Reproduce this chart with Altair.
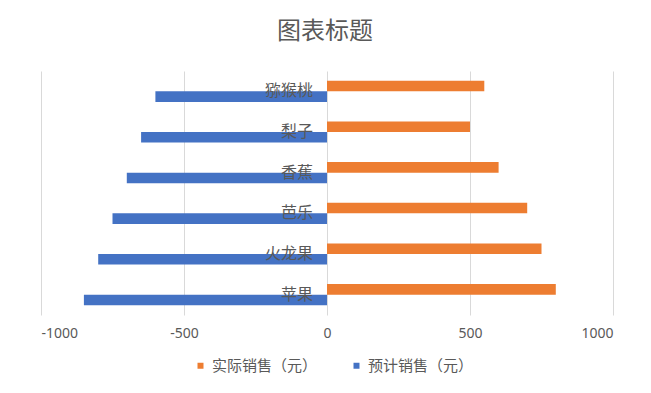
import altair as alt
import pandas as pd

categories = ["苹果", "火龙果", "芭乐", "香蕉", "梨子", "猕猴桃"]
actual = [800, 750, 700, 600, 500, 550]
forecast = [-850, -800, -750, -700, -650, -600]
series_names = ["实际销售（元）", "预计销售（元）"]
series_colors = ["#ED7D31", "#4472C4"]
x_ticks = [-1000, -500, 0, 500, 1000]
title_text = "图表标题"

rows = []
for c, a, f in zip(categories, actual, forecast):
    rows.append({"category": c, "series": series_names[0], "value": a})
    rows.append({"category": c, "series": series_names[1], "value": f})
df = pd.DataFrame(rows)
cat_df = pd.DataFrame({"category": categories, "zero": [0] * len(categories)})
title_df = pd.DataFrame({"t": [title_text]})

FONT = "Noto Sans CJK SC"
GRAY = "#595959"
y_order = list(reversed(categories))

y_enc = alt.Y("category:N", sort=y_order, axis=None,
              scale=alt.Scale(paddingInner=0.48, paddingOuter=0.24))

bars = alt.Chart(df).mark_bar().encode(
    x=alt.X("value:Q",
            scale=alt.Scale(domain=[-1000, 1000], nice=False),
            axis=alt.Axis(values=x_ticks, title=None, ticks=False, domain=False,
                          grid=True, gridColor="#D9D9D9", gridWidth=1,
                          labelColor=GRAY, labelFontSize=14, labelFont="Noto Sans",
                          labelPadding=11, labelExpr="'' + datum.value")),
    y=y_enc,
    yOffset=alt.YOffset("series:N", sort=series_names,
                        scale=alt.Scale(paddingInner=0, paddingOuter=0)),
    color=alt.Color("series:N", sort=series_names,
                    scale=alt.Scale(domain=series_names, range=series_colors),
                    legend=alt.Legend(orient="none", legendX=152, legendY=287,
                                      direction="horizontal", title=None,
                                      symbolType="square", symbolSize=36,
                                      symbolStrokeWidth=0,
                                      labelFontSize=15, labelColor=GRAY,
                                      labelFont=FONT, columnPadding=31,
                                      labelOffset=4, padding=0)),
)

labels = alt.Chart(cat_df).mark_text(
    align="right", baseline="middle", dx=-14, fontSize=16, font=FONT, color=GRAY
).encode(
    x=alt.X("zero:Q"),
    y=alt.Y("category:N", sort=y_order),
    text="category:N",
)

title = alt.Chart(title_df).mark_text(
    align="center", baseline="middle", fontSize=24, font=FONT, color=GRAY
).encode(
    x=alt.value(284),
    y=alt.value(-39),
    text="t:N",
)

chart = alt.layer(bars, labels, title).properties(
    width=572, height=244,
    autosize=alt.AutoSizeParams(type="none"),
    padding={"left": 33, "top": 63, "right": 30, "bottom": 62},
    background="white",
).configure_view(stroke=None)

chart.save("out.html", embed_options={"renderer": "svg", "actions": False})
